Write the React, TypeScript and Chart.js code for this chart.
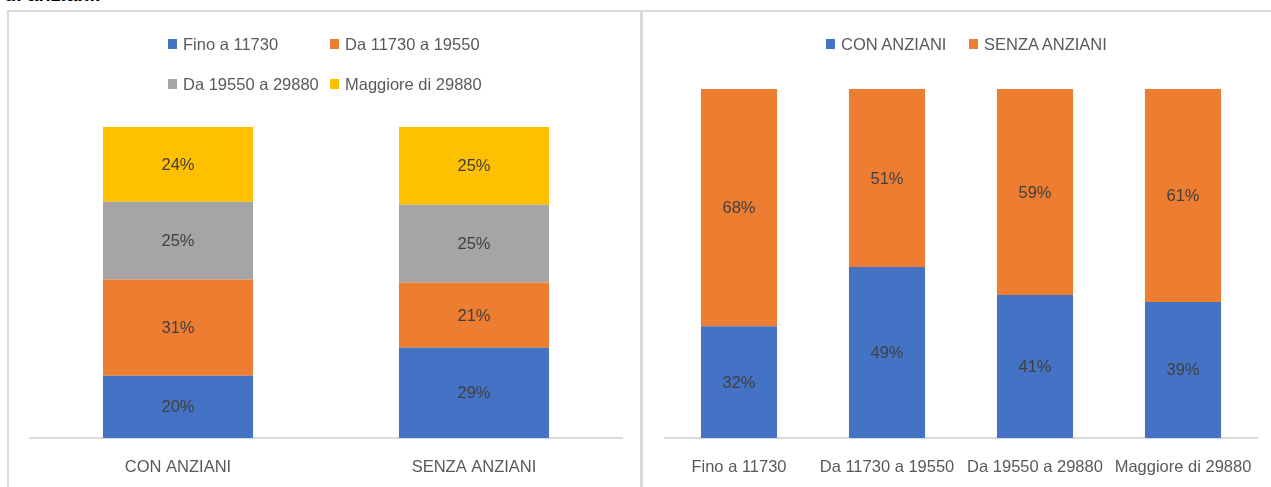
import React, { useEffect, useRef } from "react";
import { Chart, registerables } from "chart.js";
Chart.register(...registerables);

const groupCategories = ["CON ANZIANI", "SENZA ANZIANI"];
const incomeBands = ["Fino a 11730", "Da 11730 a 19550", "Da 19550 a 29880", "Maggiore di 29880"];
const finoA11730 = [20, 29];
const da11730a19550 = [31, 21];
const da19550a29880 = [25, 25];
const maggioreDi29880 = [24, 25];
const conAnziani = [32, 49, 41, 39];
const senzaAnziani = [68, 51, 59, 61];
const bandColors = ["#4472C4", "#ED7D31", "#A5A5A5", "#FFC000"];
const groupColors = ["#4472C4", "#ED7D31"];

const FONT = "'Liberation Sans', Arial, sans-serif";

const labelPlugin = {
  id: "segLabels",
  afterDatasetsDraw(chart: any) {
    const ctx = chart.ctx;
    ctx.save();
    ctx.font = "16.5px " + FONT;
    ctx.fillStyle = "#404040";
    ctx.textAlign = "center";
    ctx.textBaseline = "middle";
    chart.data.datasets.forEach((ds: any, i: number) => {
      const meta = chart.getDatasetMeta(i);
      meta.data.forEach((el: any, j: number) => {
        const p = el.getProps(["x", "y", "base"], true);
        ctx.fillText(ds.data[j] + "%", p.x, (p.y + p.base) / 2 + 1);
      });
    });
    ctx.restore();
  },
};

function makeOptions(padLeft: number, padRight: number, padTop: number, barPct: number): any {
  return {
    responsive: false,
    animation: false,
    devicePixelRatio: 1,
    layout: { padding: { left: padLeft, right: padRight, top: padTop, bottom: 0 } },
    plugins: { legend: { display: false }, tooltip: { enabled: false } },
    datasets: { bar: { categoryPercentage: 1, barPercentage: barPct } },
    scales: {
      x: {
        stacked: true,
        grid: { display: false, drawTicks: false },
        border: { display: true, color: "#d9d9d9", width: 2 },
        ticks: { color: "#595959", font: { family: FONT, size: 16.5 }, padding: 20, maxRotation: 0, autoSkip: false },
        afterFit: (s: any) => {
          s.height = 49;
          s.paddingLeft = 0;
          s.paddingRight = 0;
        },
      },
      y: { stacked: true, display: false, min: 0, max: 100 },
    },
  };
}

function ChartCanvas(props: { config: any; left: number; width: number }) {
  const ref = useRef<HTMLCanvasElement>(null);
  useEffect(() => {
    const chart = new Chart(ref.current as HTMLCanvasElement, props.config);
    return () => chart.destroy();
  }, []);
  return (
    <canvas
      ref={ref}
      width={props.width}
      height={487}
      style={{ position: "absolute", left: props.left, top: 0, width: props.width, height: 487 }}
    />
  );
}

function LegendItem(props: { x: number; y: number; color: string; text: string }) {
  return (
    <div
      style={{
        position: "absolute",
        left: props.x,
        top: props.y - 10,
        height: 20,
        display: "flex",
        alignItems: "center",
        whiteSpace: "nowrap",
        fontFamily: FONT,
        fontSize: 16.5,
        color: "#595959",
      }}
    >
      <span style={{ display: "inline-block", width: 9, height: 10, background: props.color, marginRight: 6 }} />
      <span>{props.text}</span>
    </div>
  );
}

export default function App() {
  useEffect(() => {
    document.body.style.margin = "0";
  }, []);

  const leftConfig = {
    type: "bar",
    data: {
      labels: groupCategories,
      datasets: [
        { label: incomeBands[0], data: finoA11730, backgroundColor: bandColors[0] },
        { label: incomeBands[1], data: da11730a19550, backgroundColor: bandColors[1] },
        { label: incomeBands[2], data: da19550a29880, backgroundColor: bandColors[2] },
        { label: incomeBands[3], data: maggioreDi29880, backgroundColor: bandColors[3] },
      ],
    },
    options: makeOptions(30, 18, 127, 0.507),
    plugins: [labelPlugin],
  };

  const rightConfig = {
    type: "bar",
    data: {
      labels: incomeBands,
      datasets: [
        { label: groupCategories[0], data: conAnziani, backgroundColor: groupColors[0] },
        { label: groupCategories[1], data: senzaAnziani, backgroundColor: groupColors[1] },
      ],
    },
    options: makeOptions(22, 14, 89, 0.514),
    plugins: [labelPlugin],
  };

  return (
    <div style={{ position: "relative", width: 1271, height: 487, overflow: "hidden", background: "#fff" }}>
      <div
        style={{
          position: "absolute",
          left: 4,
          top: -16,
          lineHeight: "20px",
          fontFamily: FONT,
          fontWeight: "bold",
          fontSize: 20,
          color: "#000",
          whiteSpace: "nowrap",
        }}
      >
        di anziani.
      </div>
      <div style={{ position: "absolute", left: 7, top: 10, width: 1264, height: 2, background: "#d9d9d9" }} />
      <div style={{ position: "absolute", left: 7, top: 10, width: 2, height: 477, background: "#d9d9d9" }} />
      <div style={{ position: "absolute", left: 640, top: 10, width: 3, height: 477, background: "#d9d9d9" }} />
      <ChartCanvas config={leftConfig} left={0} width={640} />
      <ChartCanvas config={rightConfig} left={643} width={628} />
      <LegendItem x={168} y={44} color={bandColors[0]} text={incomeBands[0]} />
      <LegendItem x={330} y={44} color={bandColors[1]} text={incomeBands[1]} />
      <LegendItem x={168} y={84} color={bandColors[2]} text={incomeBands[2]} />
      <LegendItem x={330} y={84} color={bandColors[3]} text={incomeBands[3]} />
      <LegendItem x={826} y={44} color={groupColors[0]} text={groupCategories[0]} />
      <LegendItem x={969} y={44} color={groupColors[1]} text={groupCategories[1]} />
    </div>
  );
}
